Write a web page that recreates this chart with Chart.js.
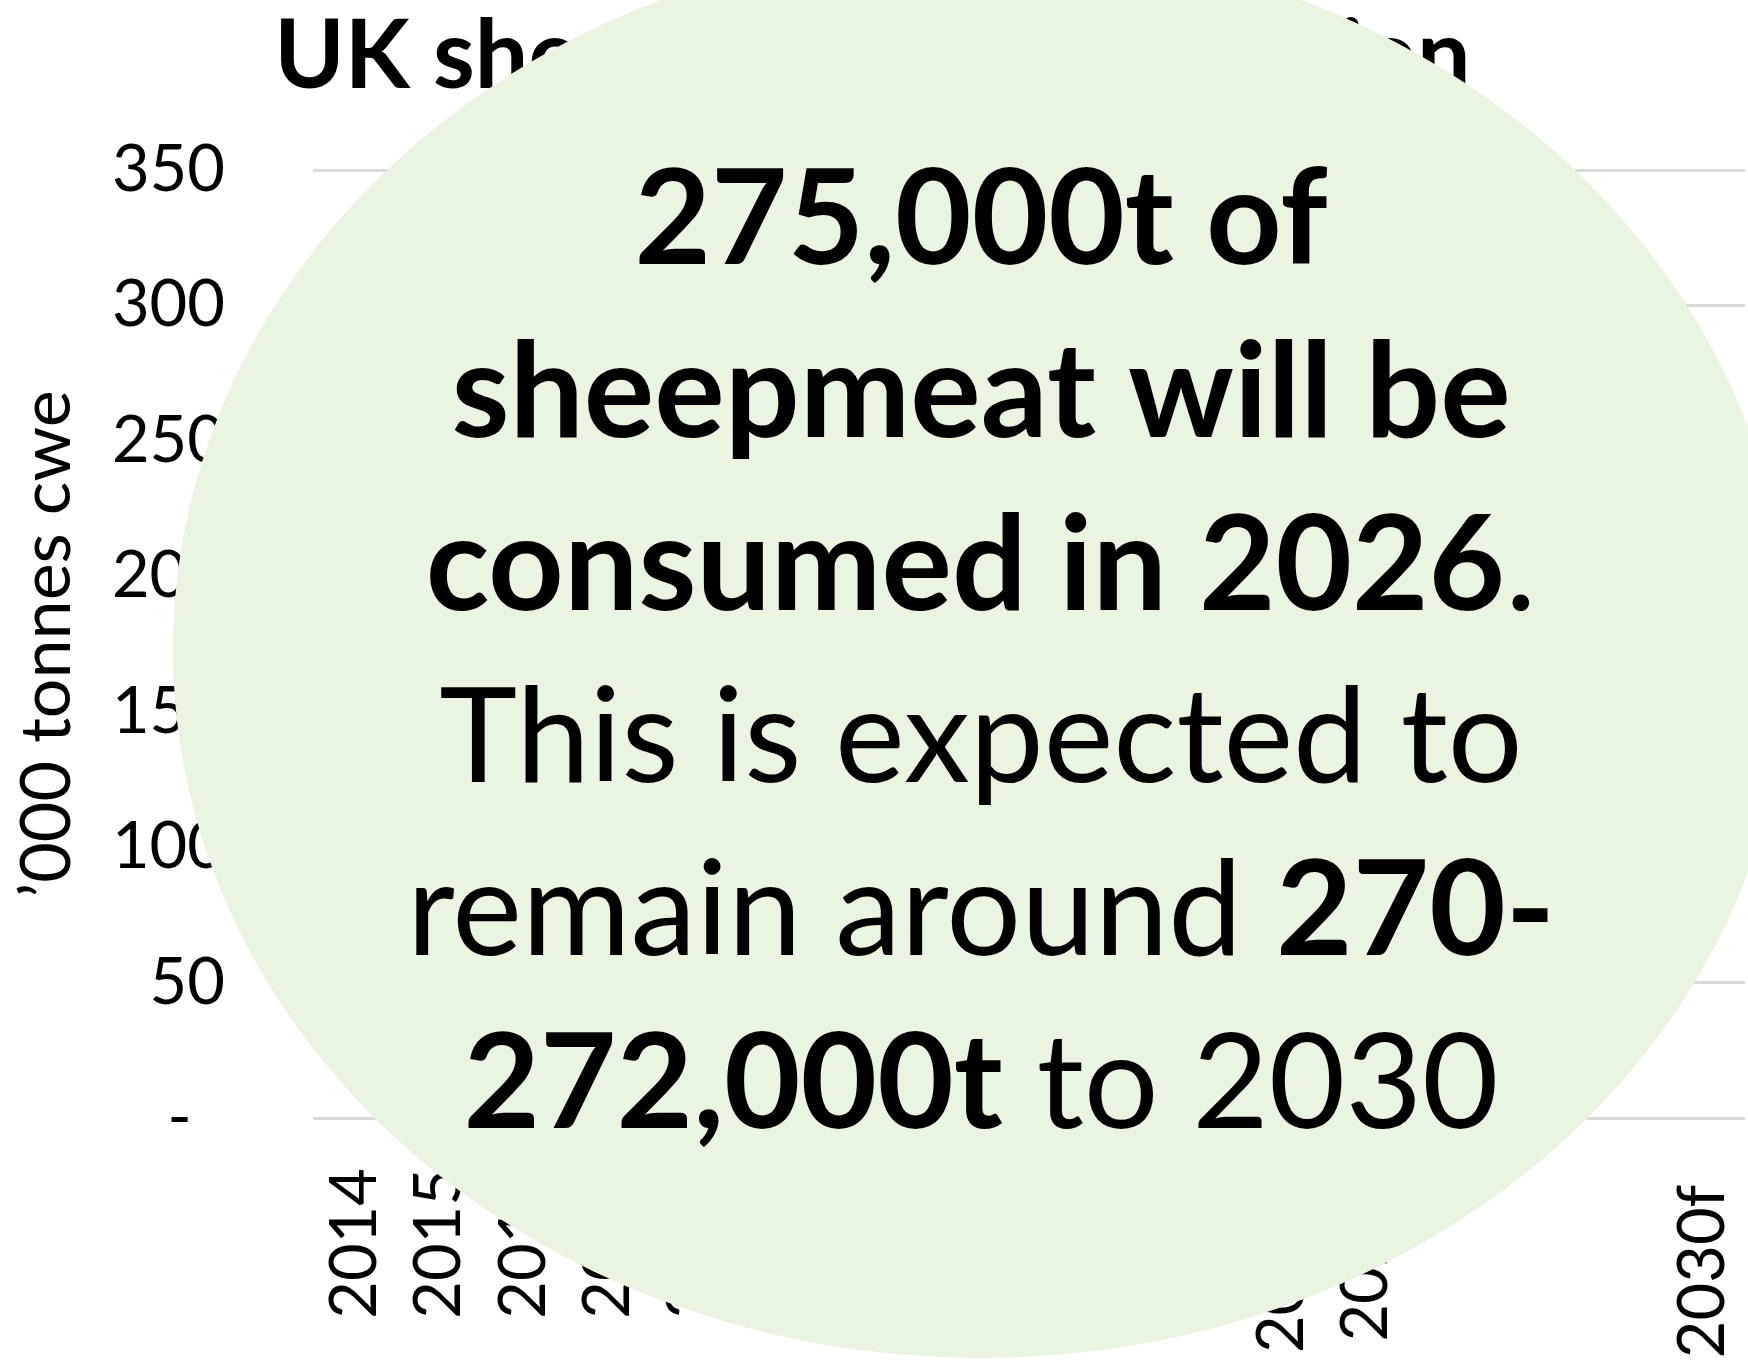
<!DOCTYPE html>
<html>
<head>
<meta charset="utf-8">
<script src="https://cdn.jsdelivr.net/npm/chart.js@4.4.1/dist/chart.umd.min.js"></script>
<style>
  html, body { margin: 0; padding: 0; background: #fff; }
  #wrap { width: 1748px; height: 1360px; }
</style>
</head>
<body>
<div id="wrap"><canvas id="chart" width="1748" height="1360"></canvas></div>
<script>
// --- DATA ---
// 2027-2029 are plotted but left unlabelled on the axis
const years = ['2014', '2015', '2016', '2017', '2018', '2019', '2020', '2021', '2022', '2023', '2024',
  '2025e', '2026f', '', '', '', '2030f '];
// '000 tonnes cwe
const consumption = [289, 291, 293, 287, 295, 286, 279, 262, 268, 266, 273, 278, 275, 272, 271, 271, 270];
const yMin = 0, yMax = 350, yStep = 50;

// callout text, one entry per line: [text, bold]
const calloutLines = [
  [['275,000t of', true]],
  [['sheepmeat will be', true]],
  [['consumed in 2026', true], ['.', false]],
  [['This is expected to', false]],
  [['remain around ', false], ['270-', true]],
  [['272,000t', true], [' to 2030', false]]
];

// --- LAYOUT ---
const yAxisWidth = 313;   // left edge of the plot
const xAxisHeight = 242;  // room under the plot for the rotated years

// --- CALLOUT BUBBLE ---
const bubble = { cx: 981, cy: 650, rx: 808, ry: 708, fill: '#e9f4e1' };
const calloutFont = { family: 'Lato', size: 132, firstBaseline: 264, lineGap: 172.8 };

const calloutPlugin = {
  id: 'callout',
  afterDraw(chart) {
    const ctx = chart.ctx;
    ctx.save();
    ctx.fillStyle = bubble.fill;
    ctx.beginPath();
    ctx.ellipse(bubble.cx, bubble.cy, bubble.rx, bubble.ry, 0, 0, Math.PI * 2);
    ctx.fill();

    ctx.fillStyle = '#000';
    ctx.textBaseline = 'alphabetic';
    ctx.textAlign = 'left';
    calloutLines.forEach((parts, i) => {
      const fonts = parts.map(p => `${p[1] ? 'bold ' : ''}${calloutFont.size}px ${calloutFont.family}`);
      let w = 0;
      parts.forEach((p, j) => { ctx.font = fonts[j]; w += ctx.measureText(p[0]).width; });
      let x = bubble.cx - w / 2;
      const y = calloutFont.firstBaseline + i * calloutFont.lineGap;
      parts.forEach((p, j) => {
        ctx.font = fonts[j];
        ctx.fillText(p[0], x, y);
        x += ctx.measureText(p[0]).width;
      });
    });
    ctx.restore();
  }
};

// --- CHART ---
new Chart(document.getElementById('chart'), {
  type: 'line',
  data: {
    labels: years,
    datasets: [{
      label: 'UK sheepmeat consumption',
      data: consumption,
      borderColor: '#4f7f3a',
      borderWidth: 5,
      pointRadius: 0,
      tension: 0
    }]
  },
  options: {
    responsive: false,
    animation: false,
    devicePixelRatio: 1,
    layout: { padding: { left: 0, right: 3, top: 0, bottom: 0 } },
    plugins: {
      legend: { display: false },
      tooltip: { enabled: false },
      title: {
        display: true,
        text: 'UK sheepmeat consumption',
        color: '#000',
        font: { family: 'Lato', size: 95, weight: 'bold' },
        padding: { top: 0, bottom: 56 }
      }
    },
    scales: {
      x: {
        offset: true,
        grid: { display: false, drawTicks: false },
        border: { display: false },
        ticks: {
          color: '#000',
          font: { family: 'Lato', size: 65 },
          minRotation: 90,
          maxRotation: 90,
          autoSkip: false,
          padding: 50
        },
        afterFit(scale) {
          scale.height = xAxisHeight;
          scale.paddingLeft = 0;
          scale.paddingRight = 0;
        }
      },
      y: {
        min: yMin,
        max: yMax,
        grid: { color: '#d9d9d9', lineWidth: 3, drawTicks: false },
        border: { display: false },
        ticks: {
          stepSize: yStep,
          color: '#000',
          font: { family: 'Lato', size: 65 },
          padding: 88,
          callback: v => v === 0 ? '-  ' : v
        },
        title: {
          display: true,
          text: '\u2019000 tonnes cwe',
          color: '#000',
          font: { family: 'Lato', size: 70 },
          padding: { top: 5, bottom: 30 }
        },
        afterFit(scale) {
          scale.width = yAxisWidth;
          scale.paddingTop = 0;
          scale.paddingBottom = 0;
        }
      }
    }
  },
  plugins: [calloutPlugin]
});
</script>
</body>
</html>
